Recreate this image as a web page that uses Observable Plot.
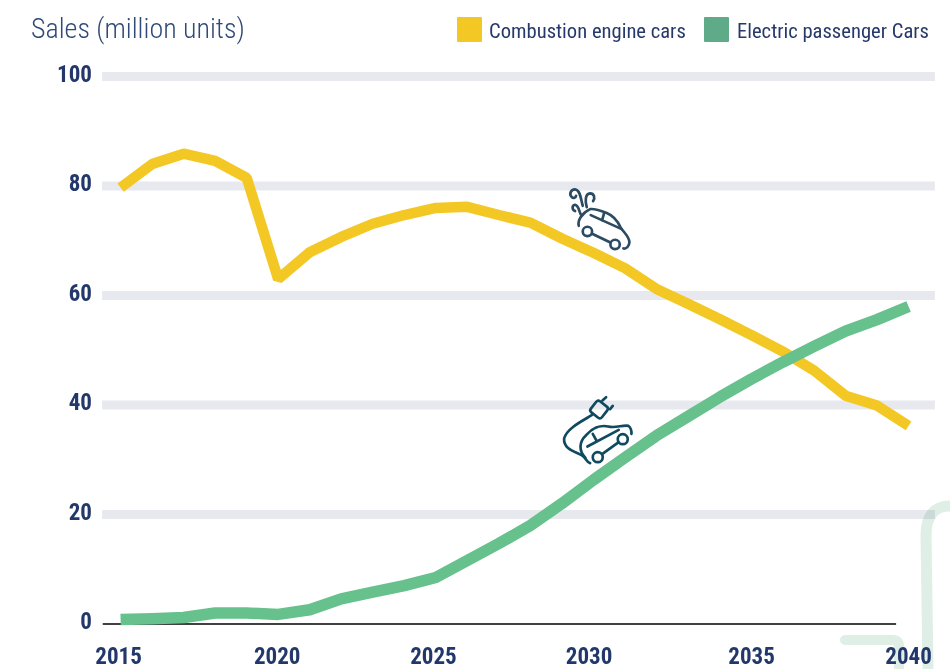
<!DOCTYPE html>
<html><head><meta charset="utf-8">
<script src="https://cdn.jsdelivr.net/npm/d3@7"></script>
<script src="https://cdn.jsdelivr.net/npm/@observablehq/plot@0.6"></script>
<style>
html,body{margin:0;padding:0;background:#fff;overflow:hidden;width:950px;height:669px}
body{font-family:Roboto,"Liberation Sans",sans-serif;font-stretch:75%}
#head{position:relative;height:60px;width:950px}
#title{position:absolute;left:31px;top:12px;font-size:28px;font-weight:300;color:#2f4a78;white-space:nowrap}
.lg{position:absolute;top:17px;width:25px;height:25px;border-radius:1px}
.lt{position:absolute;top:18px;font-size:20.6px;line-height:27px;color:#26396a;white-space:nowrap}
#chart svg{display:block}
</style></head><body>
<div id="head">
<div id="title"></div>
<div class="lg" id="k0"></div><div class="lt" id="t0" style="left:489px"></div>
<div class="lg" id="k1"></div><div class="lt" id="t1" style="left:737px"></div>
</div>
<div id="chart"></div>
<script>
const titleText = "Sales (million units)";
const seriesNames = ["Combustion engine cars", "Electric passenger Cars"];
const seriesColors = ["#f4c824", "#66c18c"];
const legendColors = ["#f4c824", "#5faa89"];
const years = [2015,2016,2017,2018,2019,2020,2021,2022,2023,2024,2025,2026,2027,2028,2029,2030,2031,2032,2033,2034,2035,2036,2037,2038,2039,2040];
const combustion = [79.7,84,85.9,84.6,81.5,63,67.9,70.7,73.1,74.7,76,76.2,74.7,73.3,70.4,67.8,65,61.2,58.5,55.7,52.8,49.8,46.3,41.7,39.9,36.2];
const electric = [0.8,0.95,1.2,2,2,1.75,2.6,4.6,5.8,7,8.5,11.6,14.7,18,22,26.3,30.4,34.4,37.9,41.4,44.7,47.8,50.7,53.5,55.6,58];
const yTicks = [0,20,40,60,80,100];
const gridTicks = [20,40,60,80,100];
const xTicks = [2015,2020,2025,2030,2035,2040];
const xTickShift = [-2,-1,-2.3,-4.3,0.6,0];

d3.select("#title").text(titleText);
seriesNames.forEach((n,i)=>{d3.select("#t"+i).text(n);d3.select("#k"+i).style("background",legendColors[i]).style("left",(i?704:457)+"px");});

const labelColor = "#22376a";
const rows = s => years.map((y,i)=>({year:y,value:s[i]}));

function decorations(index, {x,y}, channels, dims, ctx){
  const g = d3.select(ctx.document.createElementNS("http://www.w3.org/2000/svg","g"));
  // pale corner brackets
  const br = g.append("g").attr("fill","none").attr("stroke","#dfefe6").attr("stroke-width",11)
    .style("mix-blend-mode","multiply");
  br.append("path").attr("d","M928,609 L926,476 Q926,446 950,446");
  br.append("path").attr("d","M845,580 H893 Q899,580 899,586 V609").attr("stroke-linecap","round").attr("stroke-width",10);
  // exhaust car, drawn in 3x units
  const a = g.append("g").attr("transform",`translate(${x(2028.325)},${y(82.75)}) scale(${1/3})`)
    .attr("fill","none").attr("stroke","#2b4b63").attr("stroke-width",8).attr("stroke-linecap","round").attr("stroke-linejoin","round");
  a.append("path").attr("d","M116,166 C112,150 125,128 150,116 C165,114 185,122 200,128 C220,136 232,150 242,172 C255,190 268,200 268,215 C268,228 258,236 250,234");
  a.append("path").attr("d","M152,134 L245,176 M192,128 L186,150");
  a.append("circle").attr("cx",142).attr("cy",183).attr("r",14);
  a.append("circle").attr("cx",225).attr("cy",222).attr("r",14);
  a.append("path").attr("d","M156,190 L211,216");
  a.append("path").attr("d","M128,106 C122,88 122,60 106,57 C92,56 86,72 95,80 C100,85 107,82 108,76");
  a.append("path").attr("d","M140,110 C134,90 136,70 150,69 C162,69 166,82 159,92");
  a.append("path").attr("d","M122,132 C116,120 116,106 105,103 C95,104 95,118 105,122");
  // plug-in car, drawn in 3x units
  const b = g.append("g").attr("transform",`translate(${x(2028.325)},${y(43.53)}) scale(${1/3})`)
    .attr("fill","none").attr("stroke","#0f4a60").attr("stroke-width",8).attr("stroke-linecap","round").attr("stroke-linejoin","round");
  b.append("rect").attr("x",-21).attr("y",-21).attr("width",42).attr("height",42).attr("rx",8)
    .attr("transform","translate(177,73) rotate(38)");
  b.append("path").attr("d","M187,46 L198,36 M210,72 L218,62");
  b.append("path").attr("d","M155,90 C125,108 80,130 72,160 C70,195 110,200 128,212 C138,220 140,232 150,234");
  b.append("path").attr("d","M136,218 C116,198 116,170 138,150 C155,130 180,118 205,124 C225,130 250,118 265,122 C272,126 275,138 274,146");
  b.append("path").attr("d","M142,184 L236,134 M158,146 L170,168");
  b.append("circle").attr("cx",173).attr("cy",216).attr("r",15);
  b.append("circle").attr("cx",248).attr("cy",162).attr("r",15);
  b.append("path").attr("d","M186,207 L236,171");
  return g.node();
}

const axisOpts = {anchor:"bottom",tickSize:0,tickPadding:24,label:null,fontSize:23,fontWeight:700,fill:labelColor,tickFormat:d=>String(d)};
const plot = Plot.plot({
  width: 950, height: 609,
  marginLeft: 0, marginRight: 0, marginTop: 16, marginBottom: 45.5,
  x: {domain:[2011.19,2041.33], range:[0,950], axis:null},
  y: {domain:[0,100], axis:null},
  style:{background:"transparent",fontFamily:"Roboto, sans-serif",overflow:"visible"},
  marks: [
    Plot.ruleY(gridTicks,{x1:2014.43,x2:2040.85,stroke:"#e8e9ef",strokeWidth:9}),
    Plot.ruleY([0],{x1:2014.45,x2:2039.62,stroke:"#000",strokeWidth:1.3}),
    Plot.line(rows(combustion),{x:"year",y:"value",stroke:seriesColors[0],strokeWidth:10.5,curve:"linear",strokeLinejoin:"miter",strokeLinecap:"butt"}),
    Plot.line(rows(electric),{x:"year",y:"value",stroke:seriesColors[1],strokeWidth:11.5,curve:"linear",strokeLinejoin:"round",strokeLinecap:"butt"}),
    decorations,
    Plot.axisY(yTicks,{anchor:"left",x:2014.09,tickSize:0,tickPadding:0,label:null,fontSize:23,fontWeight:700,fill:labelColor,textAnchor:"end",dy:-2,tickFormat:d=>String(d)}),
    ...xTicks.map((t,i)=>Plot.axisX([t],{...axisOpts,dx:xTickShift[i]}))
  ]
});
d3.select(plot).selectAll("text").style("font-stretch","75%");
document.getElementById("chart").appendChild(plot);
</script>
</body></html>
